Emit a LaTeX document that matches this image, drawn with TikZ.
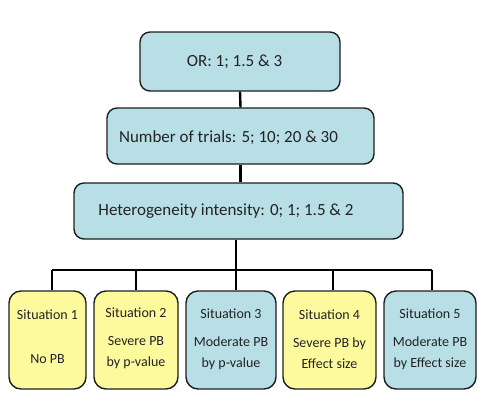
\documentclass[tikz,border=0pt]{standalone}
\usepackage{fontspec}
\setmainfont{Carlito}
\definecolor{boxblue}{RGB}{184,223,230}
\definecolor{boxyellow}{RGB}{253,250,158}
\definecolor{edgecol}{RGB}{30,30,30}
\definecolor{txtcol}{RGB}{35,35,35}
\begin{document}
\begin{tikzpicture}[x=1pt,y=1pt,
  topbox/.style={draw=edgecol, line width=1.4pt, fill=boxblue, rounded corners=10pt, inner sep=0pt},
  botbox/.style={draw=edgecol, line width=1.4pt, rounded corners=12pt, inner sep=0pt, minimum height=98pt},
  toptext/.style={text=txtcol, font=\fontsize{17}{20}\selectfont, inner sep=0pt},
  bottext/.style={text=txtcol, font=\fontsize{14}{21}\selectfont, align=center, inner sep=0pt},
  conn/.style={line width=2.4pt, black}]
\useasboundingbox (0,0) rectangle (484,-405);
% top boxes
\node[topbox, minimum width=200pt, minimum height=59pt] (A) at (240,-61.5) {};
\node[topbox, minimum width=267pt, minimum height=56pt] (B) at (240.5,-136) {};
\node[topbox, minimum width=329pt, minimum height=56pt] (C) at (238.5,-211) {};
% bottom boxes
\node[botbox, fill=boxyellow, minimum width=77pt] (S1) at (47.5,-340) {};
\node[botbox, fill=boxyellow, minimum width=84pt] (S2) at (136,-340) {};
\node[botbox, fill=boxblue, minimum width=90pt] (S3) at (231,-340) {};
\node[botbox, fill=boxyellow, minimum width=93pt] (S4) at (329.5,-340) {};
\node[botbox, fill=boxblue, minimum width=92pt] (S5) at (430,-340) {};
% texts
\node[toptext] (At) at (234.5,-62) {OR: 1; 1.5 \& 3};
\node[toptext] (Bt) at (228.5,-138) {Number of trials: 5; 10; 20 \& 30};
\node[toptext] (Ct) at (226,-211) {Heterogeneity intensity: 0; 1; 1.5 \& 2};
\node[bottext] (S1t) at (47.5,-337) {Situation 1\\[23pt]No PB};
\node[bottext] (S2t) at (136,-338) {Situation 2\\[7pt]Severe PB\\by p-value};
\node[bottext] (S3t) at (231,-339) {Situation 3\\[7pt]Moderate PB\\by p-value};
\node[bottext] (S4t) at (329.5,-339) {Situation 4\\[7pt]Severe PB by\\Effect size};
\node[bottext] (S5t) at (430,-339) {Situation 5\\[7pt]Moderate PB\\by Effect size};
% connectors
\draw[conn] (A.south) -- (B.north);
\draw[conn] (B.south) -- (B.south |- C.north);
\coordinate (hub) at (236,-270);
\coordinate (d1) at (52,-270);
\coordinate (d2) at (136,-270);
\coordinate (d4) at (333,-270);
\coordinate (d5) at (432,-270);
\draw[conn] (hub |- C.south) -- (hub);
\draw[conn] (d1) -- (d5);
\draw[conn] (d1) -- (d1 |- S1.north);
\draw[conn] (d2) -- (d2 |- S2.north);
\draw[conn] (hub) -- (hub |- S3.north);
\draw[conn] (d4) -- (d4 |- S4.north);
\draw[conn] (d5) -- (d5 |- S5.north);
\end{tikzpicture}
\end{document}
